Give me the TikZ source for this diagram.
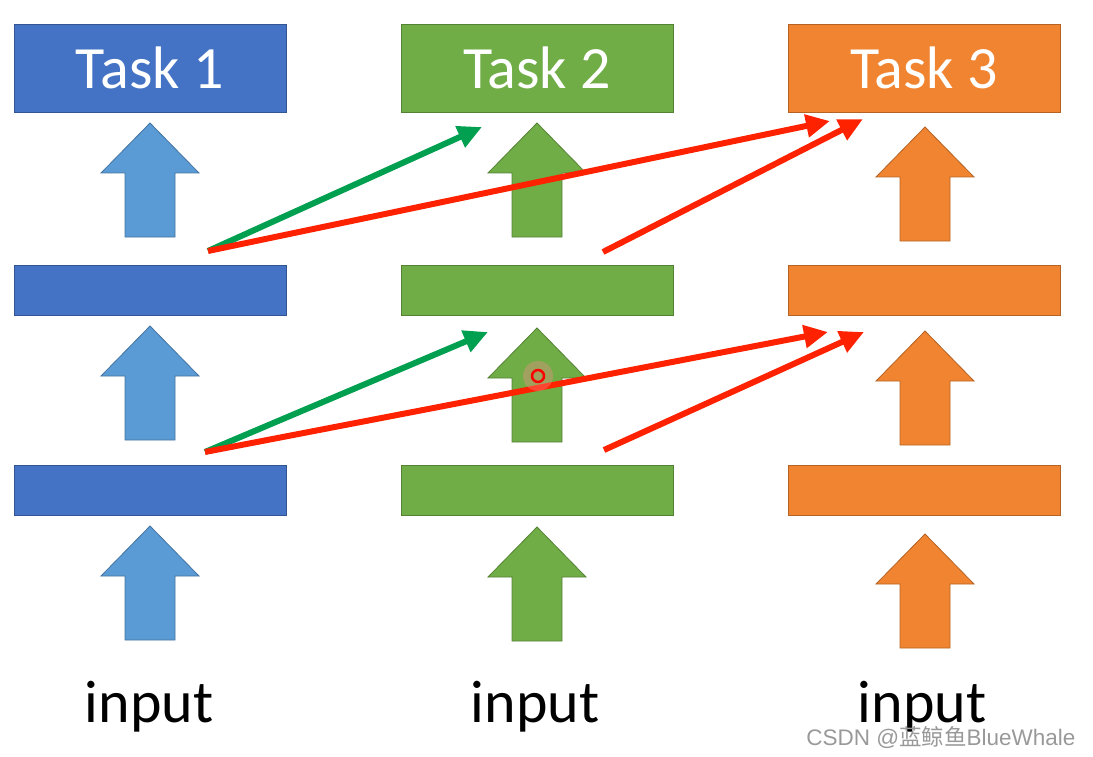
\documentclass[tikz,border=0pt]{standalone}
\usepackage{fontspec}
\setmainfont{Carlito}
\newfontfamily\wmfont{Liberation Sans}
\newfontfamily\cjk{Noto Sans CJK SC}
\usetikzlibrary{arrows.meta}
\usepackage{xcolor}

\definecolor{taskblue}{HTML}{4472C4}
\definecolor{arrowblue}{HTML}{5B9BD5}
\definecolor{taskgreen}{HTML}{70AD47}
\definecolor{taskorange}{HTML}{F08431}
\definecolor{linkgreen}{HTML}{00A050}
\definecolor{linkred}{HTML}{FF2200}

\tikzset{
  upblock/.pic={
    \draw[pic actions] (-25,0) -- (-25,-64) -- (-49,-64) -- (0,-114)
      -- (49,-64) -- (25,-64) -- (25,0) -- cycle;
  }
}

\begin{document}
\begin{tikzpicture}[x=1pt, y=-1pt,
  bar/.style={draw=#1!75!black, fill=#1, line width=0.8pt,
    minimum width=272pt, minimum height=50pt, inner sep=0pt},
  taskbox/.style={bar=#1, minimum height=88pt, text=white,
    font=\fontsize{60}{70}\selectfont},
  blk/.style={draw=#1!75!black, fill=#1, line width=0.8pt},
  link/.style={line width=6pt, -{Triangle[length=24pt,width=22pt]}},
  lbl/.style={anchor=base, font=\fontsize{60}{70}\selectfont}]
  \useasboundingbox (0,0) rectangle (1093,757);

  % task heads
  \node[taskbox=taskblue] (task1) at (150,68) {Task 1};
  \node[taskbox=taskgreen] (task2) at (537,68) {Task 2};
  \node[taskbox=taskorange] (task3) at (924,68) {Task 3};

  % hidden layers
  \node[bar=taskblue] (hidA1) at (150,290) {};
  \node[bar=taskgreen] (hidA2) at (537,290) {};
  \node[bar=taskorange] (hidA3) at (924,290) {};

  \node[bar=taskblue] (hidB1) at (150,490) {};
  \node[bar=taskgreen] (hidB2) at (537,490) {};
  \node[bar=taskorange] (hidB3) at (924,490) {};

  % inputs
  \node[lbl] (in1) at (149,722) {input};
  \node[lbl] (in2) at (535,722) {input};
  \node[lbl] (in3) at (922,722) {input};

  % block arrows
  \pic[blk=arrowblue] (up11) at (150,237) {upblock};
  \pic[blk=arrowblue] (up12) at (150,440) {upblock};
  \pic[blk=arrowblue] (up13) at (150,640) {upblock};

  \pic[blk=taskgreen] (up21) at (537,237) {upblock};
  \pic[blk=taskgreen] (up22) at (537,442) {upblock};
  \pic[blk=taskgreen] (up23) at (537,641) {upblock};

  \pic[blk=taskorange] (up31) at (925,241) {upblock};
  \pic[blk=taskorange] (up32) at (925,445) {upblock};
  \pic[blk=taskorange] (up33) at (925,648) {upblock};

  % ends of the added links
  \coordinate (fromA1) at (208,251);
  \coordinate (fromA2) at (603,252);
  \coordinate (toA2) at (482,127);
  \coordinate (toA3a) at (830,121);
  \coordinate (toA3b) at (863,119);

  \coordinate (fromB1) at (205,452);
  \coordinate (fromB2) at (604,450);
  \coordinate (toB2) at (488,332);
  \coordinate (toB3a) at (828,332);
  \coordinate (toB3b) at (864,332);

  \draw[link, linkgreen] (fromA1) -- (toA2);
  \draw[link, linkred] (fromA1) -- (toA3a);
  \draw[link, linkred] (fromA2) -- (toA3b);

  \draw[link, linkgreen] (fromB1) -- (toB2);
  \draw[link, linkred] (fromB1) -- (toB3a);
  \draw[link, linkred] (fromB2) -- (toB3b);

  % pointer
  \fill[red!45, opacity=0.35] (538,376) circle[radius=15];
  \draw[red, line width=2.5pt] (538,376) circle[radius=6];

  \node[anchor=base east, text=black!40, font=\wmfont\fontsize{22.5}{26}\selectfont]
    (mark) at (1079,745) {CSDN @{\cjk 蓝鲸鱼}BlueWhale};
\end{tikzpicture}
\end{document}
